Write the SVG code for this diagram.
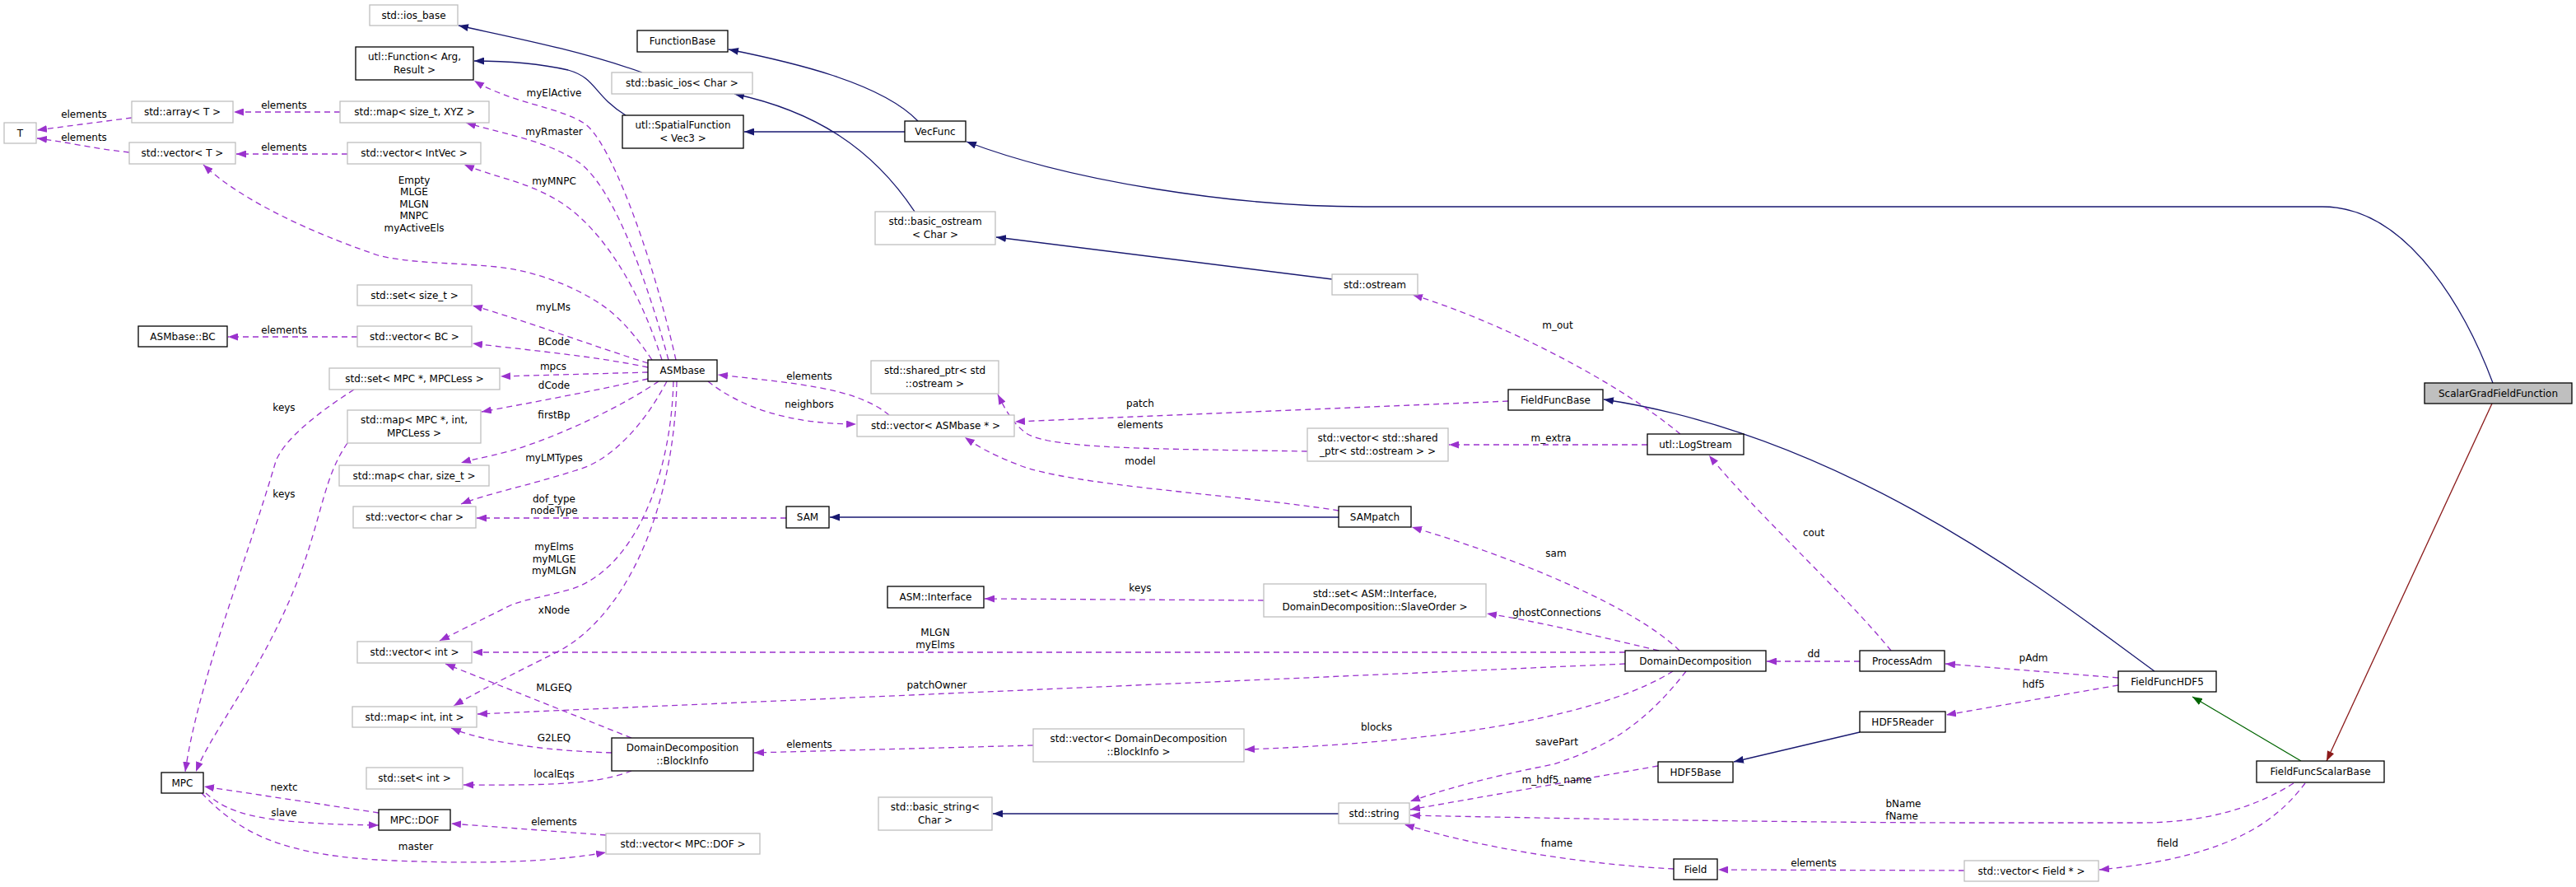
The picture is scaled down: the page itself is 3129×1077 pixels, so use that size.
<svg xmlns="http://www.w3.org/2000/svg" width="3129" height="1077" viewBox="0 0 3129 1077">
<style>
text{font-family:"DejaVu Sans","Liberation Sans",sans-serif;font-size:12px;fill:#000;text-anchor:middle}
.n rect{fill:#fff;stroke:#000;stroke-width:1.3}
.g rect{stroke:#bfbfbf}
.cur rect{fill:#bfbfbf}
.inh{fill:none;stroke:#191970;stroke-width:1.3}
.use{fill:none;stroke:#9a32cd;stroke-width:1.3;stroke-dasharray:7,5}
</style>
<defs>
<marker id="ab" markerWidth="12" markerHeight="9" refX="12" refY="4.5" orient="auto" markerUnits="userSpaceOnUse"><path d="M0,0L12,4.5L0,9z" fill="#191970"/></marker>
<marker id="ap" markerWidth="12" markerHeight="9" refX="12" refY="4.5" orient="auto" markerUnits="userSpaceOnUse"><path d="M0,0L12,4.5L0,9z" fill="#9a32cd"/></marker>
<marker id="ag" markerWidth="12" markerHeight="9" refX="12" refY="4.5" orient="auto" markerUnits="userSpaceOnUse"><path d="M0,0L12,4.5L0,9z" fill="#006400"/></marker>
<marker id="ar" markerWidth="12" markerHeight="9" refX="12" refY="4.5" orient="auto" markerUnits="userSpaceOnUse"><path d="M0,0L12,4.5L0,9z" fill="#8b1a1a"/></marker>
</defs>
<g id="edges">
<g marker-end="url(#ab)">
<path class="inh" d="M780,88 C700,60 620,45 557,31"/>
<path class="inh" d="M760,140 C720,115 725,95 690,85 C650,76 610,74 576,74"/>
<path class="inh" d="M1115,147 C1070,100 960,75 885,60"/>
<path class="inh" d="M1099,160 L904,160"/>
<path class="inh" d="M1111,257 C1060,180 990,135 892,114"/>
<path class="inh" d="M1618,339 L1210,288"/>
<path class="inh" d="M3028,465 C3000,390 2930,251 2821,251 L1657,251 C1500,251 1300,220 1174,172"/>
<path class="inh" d="M1626,628 L1008,628"/>
<path class="inh" d="M1626,988 L1206,988"/>
<path class="inh" d="M2259,889 L2106,925"/>
<path class="inh" d="M2617,815 C2500,730 2250,530 1948,485"/>
</g>
<path d="M2795,924 L2663,846" fill="none" stroke="#006400" stroke-width="1.3" marker-end="url(#ag)"/>
<path d="M3027,490 L2826,924" fill="none" stroke="#8b1a1a" stroke-width="1.3" marker-end="url(#ar)"/>
<g marker-end="url(#ap)">
<path class="use" d="M160,143 L45,158"/>
<path class="use" d="M157,185 C110,180 80,172 45,168"/>
<path class="use" d="M413,136 L284,136"/>
<path class="use" d="M422,187 L287,187"/>
<path class="use" d="M821,437 C790,300 740,170 710,150 C680,130 620,125 576,98"/>
<path class="use" d="M812,437 C780,320 740,220 700,195 C660,170 620,165 566,149"/>
<path class="use" d="M804,437 C770,330 720,270 680,245 C640,220 600,215 564,200"/>
<path class="use" d="M792,437 C760,390 740,375 718,362 C680,340 640,328 603,324 C540,318 500,320 459,310 C400,290 300,250 247,200"/>
<path class="use" d="M787,441 C720,420 640,390 574,371"/>
<path class="use" d="M787,446 C720,432 640,425 574,417"/>
<path class="use" d="M434,409 L277,409"/>
<path class="use" d="M787,452 L608,457"/>
<path class="use" d="M787,460 C720,475 640,490 585,500"/>
<path class="use" d="M800,463 C760,490 700,520 643,540 C610,552 580,556 560,562"/>
<path class="use" d="M810,463 C780,520 740,560 700,571 C640,590 590,600 560,612"/>
<path class="use" d="M955,629 L579,629"/>
<path class="use" d="M818,463 C815,580 770,690 695,715 C660,725 640,727 620,735 C590,750 560,765 534,778"/>
<path class="use" d="M822,463 C820,600 770,740 680,790 C620,820 580,840 551,857"/>
<path class="use" d="M1974,792 L574,792"/>
<path class="use" d="M1974,806 L580,867"/>
<path class="use" d="M767,896 L541,806"/>
<path class="use" d="M743,914 C680,912 600,905 548,884"/>
<path class="use" d="M767,936 C720,955 640,953 563,953"/>
<path class="use" d="M1255,905 L916,914"/>
<path class="use" d="M2032,815 C1960,860 1800,900 1512,910"/>
<path class="use" d="M2040,790 C1990,740 1850,680 1715,640"/>
<path class="use" d="M2015,790 C1930,770 1870,755 1806,745"/>
<path class="use" d="M1535,729 L1196,727"/>
<path class="use" d="M2048,815 C1990,890 1940,910 1887,928 C1800,945 1750,960 1713,973"/>
<path class="use" d="M2259,803 L2146,803"/>
<path class="use" d="M2297,790 C2240,720 2130,620 2076,553"/>
<path class="use" d="M2041,527 C1960,460 1820,390 1716,358"/>
<path class="use" d="M2001,540 L1760,540"/>
<path class="use" d="M2573,823 L2363,806"/>
<path class="use" d="M2573,832 L2364,868"/>
<path class="use" d="M2014,930 L1713,983"/>
<path class="use" d="M2786,951 C2740,980 2680,999 2600,999 L2400,999 C2200,999 1900,994 1713,990"/>
<path class="use" d="M2800,951 C2770,990 2720,1040 2550,1056"/>
<path class="use" d="M2386,1057 L2087,1056"/>
<path class="use" d="M2033,1055 C1930,1050 1800,1030 1706,1001"/>
<path class="use" d="M1626,620 C1500,600 1300,590 1236,564 C1200,550 1185,540 1172,531"/>
<path class="use" d="M1080,504 C1040,470 960,465 872,455"/>
<path class="use" d="M860,463 C900,495 960,515 1040,515"/>
<path class="use" d="M1832,487 L1233,512"/>
<path class="use" d="M1588,548 C1400,545 1280,545 1248,527 C1230,515 1220,495 1212,479"/>
<path class="use" d="M430,473 C380,505 345,535 335,560 C300,680 240,830 225,937"/>
<path class="use" d="M422,538 C400,570 395,600 380,650 C340,790 260,880 238,937"/>
<path class="use" d="M460,987 L248,955"/>
<path class="use" d="M250,963 C280,990 320,1000 460,1002"/>
<path class="use" d="M736,1014 L548,1000"/>
<path class="use" d="M245,963 C290,1010 340,1040 480,1045 C600,1050 680,1045 736,1035"/>
</g>
<g id="edge-labels">
<text x="102" y="143">elements</text>
<text x="102" y="171">elements</text>
<text x="345" y="132">elements</text>
<text x="345" y="183">elements</text>
<text x="673" y="117">myElActive</text>
<text x="673" y="164">myRmaster</text>
<text x="673" y="224">myMNPC</text>
<text x="503" y="223">Empty</text><text x="503" y="237">MLGE</text><text x="503" y="252">MLGN</text><text x="503" y="266">MNPC</text><text x="503" y="281">myActiveEls</text>
<text x="672" y="377">myLMs</text>
<text x="673" y="419">BCode</text>
<text x="345" y="405">elements</text>
<text x="672" y="449">mpcs</text>
<text x="673" y="472">dCode</text>
<text x="673" y="508">firstBp</text>
<text x="345" y="499">keys</text>
<text x="673" y="560">myLMTypes</text>
<text x="345" y="604">keys</text>
<text x="673" y="610">dof_type</text><text x="673" y="624">nodeType</text>
<text x="673" y="668">myElms</text><text x="673" y="683">myMLGE</text><text x="673" y="697">myMLGN</text>
<text x="673" y="745">xNode</text>
<text x="1136" y="772">MLGN</text><text x="1136" y="787">myElms</text>
<text x="1138" y="836">patchOwner</text>
<text x="673" y="839">MLGEQ</text>
<text x="673" y="900">G2LEQ</text>
<text x="983" y="908">elements</text>
<text x="673" y="944">localEqs</text>
<text x="345" y="960">nextc</text>
<text x="345" y="991">slave</text>
<text x="673" y="1002">elements</text>
<text x="505" y="1032">master</text>
<text x="983" y="461">elements</text>
<text x="983" y="495">neighbors</text>
<text x="1385" y="494">patch</text>
<text x="1385" y="520">elements</text>
<text x="1385" y="564">model</text>
<text x="1385" y="718">keys</text>
<text x="1672" y="887">blocks</text>
<text x="1892" y="399">m_out</text>
<text x="1884" y="536">m_extra</text>
<text x="2203" y="651">cout</text>
<text x="1890" y="676">sam</text>
<text x="1891" y="748">ghostConnections</text>
<text x="2203" y="798">dd</text>
<text x="2470" y="803">pAdm</text>
<text x="2470" y="835">hdf5</text>
<text x="1891" y="905">savePart</text>
<text x="1891" y="951">m_hdf5_name</text>
<text x="2312" y="980">bName</text><text x="2310" y="995">fName</text>
<text x="1891" y="1028">fname</text>
<text x="2203" y="1052">elements</text>
<text x="2633" y="1028">field</text>
</g>
</g>
<g id="n_ios_base" class="n g"><rect x="449" y="6" width="107" height="25"/><text x="502.5" y="23">std::ios_base</text></g>
<g id="n_FunctionBase" class="n"><rect x="774" y="37" width="110" height="26"/><text x="829" y="54">FunctionBase</text></g>
<g id="n_utlFunction" class="n"><rect x="432" y="57" width="143" height="40"/><text x="503.5" y="73">utl::Function&lt; Arg,</text><text x="503.5" y="89">Result &gt;</text></g>
<g id="n_basic_ios" class="n g"><rect x="743" y="88" width="171" height="26"/><text x="828.5" y="105">std::basic_ios&lt; Char &gt;</text></g>
<g id="n_array" class="n g"><rect x="160" y="123" width="123" height="26"/><text x="221.5" y="140">std::array&lt; T &gt;</text></g>
<g id="n_map_size_xyz" class="n g"><rect x="413" y="123" width="181" height="26"/><text x="503.5" y="140">std::map&lt; size_t, XYZ &gt;</text></g>
<g id="n_T" class="n g"><rect x="5" y="149" width="39" height="25"/><text x="24.5" y="166">T</text></g>
<g id="n_vector_T" class="n g"><rect x="157" y="173" width="129" height="26"/><text x="221.5" y="190">std::vector&lt; T &gt;</text></g>
<g id="n_vector_IntVec" class="n g"><rect x="422" y="173" width="162" height="26"/><text x="503" y="190">std::vector&lt; IntVec &gt;</text></g>
<g id="n_SpatialFunction" class="n"><rect x="756" y="140" width="147" height="40"/><text x="829.5" y="156">utl::SpatialFunction</text><text x="829.5" y="172">&lt; Vec3 &gt;</text></g>
<g id="n_VecFunc" class="n"><rect x="1099" y="147" width="74" height="25"/><text x="1136" y="164">VecFunc</text></g>
<g id="n_basic_ostream" class="n g"><rect x="1063" y="257" width="146" height="40"/><text x="1136" y="273">std::basic_ostream</text><text x="1136" y="289">&lt; Char &gt;</text></g>
<g id="n_ostream" class="n g"><rect x="1618" y="333" width="104" height="25"/><text x="1670" y="350">std::ostream</text></g>
<g id="n_set_size_t" class="n g"><rect x="434" y="346" width="139" height="25"/><text x="503.5" y="363">std::set&lt; size_t &gt;</text></g>
<g id="n_ASMbaseBC" class="n"><rect x="168" y="396" width="108" height="25"/><text x="222" y="413">ASMbase::BC</text></g>
<g id="n_vector_BC" class="n g"><rect x="434" y="396" width="139" height="25"/><text x="503.5" y="413">std::vector&lt; BC &gt;</text></g>
<g id="n_ASMbase" class="n"><rect x="787" y="437" width="84" height="26"/><text x="829" y="454">ASMbase</text></g>
<g id="n_set_MPC" class="n g"><rect x="400" y="447" width="207" height="26"/><text x="503.5" y="464">std::set&lt; MPC *, MPCLess &gt;</text></g>
<g id="n_map_MPC" class="n g"><rect x="422" y="498" width="162" height="40"/><text x="503" y="514">std::map&lt; MPC *, int,</text><text x="503" y="530">MPCLess &gt;</text></g>
<g id="n_shared_ptr" class="n g"><rect x="1058" y="438" width="155" height="40"/><text x="1135.5" y="454">std::shared_ptr&lt; std</text><text x="1135.5" y="470">::ostream &gt;</text></g>
<g id="n_vector_ASMbase" class="n g"><rect x="1041" y="504" width="191" height="26"/><text x="1136.5" y="521">std::vector&lt; ASMbase * &gt;</text></g>
<g id="n_FieldFuncBase" class="n"><rect x="1832" y="473" width="115" height="25"/><text x="1889.5" y="490">FieldFuncBase</text></g>
<g id="n_vector_shared" class="n g"><rect x="1588" y="520" width="171" height="40"/><text x="1673.5" y="536">std::vector&lt; std::shared</text><text x="1673.5" y="552">_ptr&lt; std::ostream &gt; &gt;</text></g>
<g id="n_LogStream" class="n"><rect x="2001" y="527" width="117" height="25"/><text x="2059.5" y="544">utl::LogStream</text></g>
<g id="n_ScalarGradFieldFunction" class="n cur"><rect x="2945" y="465" width="179" height="25"/><text x="3034.5" y="482">ScalarGradFieldFunction</text></g>
<g id="n_map_char" class="n g"><rect x="412" y="565" width="182" height="25"/><text x="503" y="582">std::map&lt; char, size_t &gt;</text></g>
<g id="n_vector_char" class="n g"><rect x="429" y="615" width="149" height="26"/><text x="503.5" y="632">std::vector&lt; char &gt;</text></g>
<g id="n_SAM" class="n"><rect x="955" y="615" width="52" height="26"/><text x="981" y="632">SAM</text></g>
<g id="n_SAMpatch" class="n"><rect x="1626" y="615" width="88" height="25"/><text x="1670" y="632">SAMpatch</text></g>
<g id="n_ASMInterface" class="n"><rect x="1078" y="712" width="117" height="26"/><text x="1136.5" y="729">ASM::Interface</text></g>
<g id="n_set_Interface" class="n g"><rect x="1535" y="709" width="270" height="40"/><text x="1670" y="725">std::set&lt; ASM::Interface,</text><text x="1670" y="741">DomainDecomposition::SlaveOrder &gt;</text></g>
<g id="n_vector_int" class="n g"><rect x="434" y="779" width="139" height="26"/><text x="503.5" y="796">std::vector&lt; int &gt;</text></g>
<g id="n_DomainDecomposition" class="n"><rect x="1974" y="790" width="171" height="25"/><text x="2059.5" y="807">DomainDecomposition</text></g>
<g id="n_ProcessAdm" class="n"><rect x="2259" y="790" width="103" height="25"/><text x="2310.5" y="807">ProcessAdm</text></g>
<g id="n_FieldFuncHDF5" class="n"><rect x="2573" y="815" width="119" height="25"/><text x="2632.5" y="832">FieldFuncHDF5</text></g>
<g id="n_map_int" class="n g"><rect x="428" y="858" width="151" height="25"/><text x="503.5" y="875">std::map&lt; int, int &gt;</text></g>
<g id="n_HDF5Reader" class="n"><rect x="2259" y="864" width="104" height="25"/><text x="2311" y="881">HDF5Reader</text></g>
<g id="n_BlockInfo" class="n"><rect x="743" y="896" width="172" height="40"/><text x="829" y="912">DomainDecomposition</text><text x="829" y="928">::BlockInfo</text></g>
<g id="n_vector_BlockInfo" class="n g"><rect x="1255" y="885" width="256" height="40"/><text x="1383" y="901">std::vector&lt; DomainDecomposition</text><text x="1383" y="917">::BlockInfo &gt;</text></g>
<g id="n_FieldFuncScalarBase" class="n"><rect x="2741" y="924" width="155" height="26"/><text x="2818.5" y="941">FieldFuncScalarBase</text></g>
<g id="n_HDF5Base" class="n"><rect x="2014" y="925" width="91" height="25"/><text x="2059.5" y="942">HDF5Base</text></g>
<g id="n_set_int" class="n g"><rect x="445" y="932" width="117" height="26"/><text x="503.5" y="949">std::set&lt; int &gt;</text></g>
<g id="n_MPC" class="n"><rect x="196" y="938" width="51" height="25"/><text x="221.5" y="955">MPC</text></g>
<g id="n_basic_string" class="n g"><rect x="1067" y="968" width="138" height="40"/><text x="1136" y="984">std::basic_string&lt;</text><text x="1136" y="1000">Char &gt;</text></g>
<g id="n_string" class="n g"><rect x="1626" y="975" width="86" height="25"/><text x="1669" y="992">std::string</text></g>
<g id="n_MPCDOF" class="n"><rect x="460" y="983" width="87" height="25"/><text x="503.5" y="1000">MPC::DOF</text></g>
<g id="n_vector_MPCDOF" class="n g"><rect x="736" y="1012" width="187" height="25"/><text x="829.5" y="1029">std::vector&lt; MPC::DOF &gt;</text></g>
<g id="n_Field" class="n"><rect x="2033" y="1043" width="53" height="25"/><text x="2059.5" y="1060">Field</text></g>
<g id="n_vector_Field" class="n g"><rect x="2386" y="1045" width="163" height="25"/><text x="2467.5" y="1062">std::vector&lt; Field * &gt;</text></g>
</svg>
